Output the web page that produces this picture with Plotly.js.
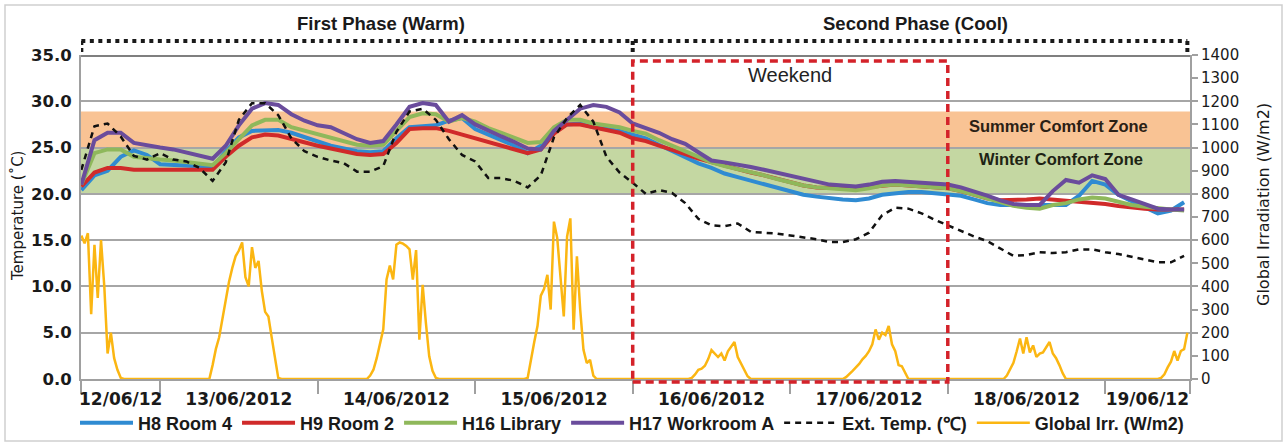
<!DOCTYPE html>
<html>
<head>
<meta charset="utf-8">
<script src="https://cdn.plot.ly/plotly-3.0.1.min.js"></script>
<style>
html,body{margin:0;padding:0;background:#ffffff;}
#chart{width:1287px;height:445px;}
</style>
</head>
<body>
<div id="chart"></div>
<script>
// ---------------- DATA ----------------
// time axis: hours since 12/06/2012 00:00
const tempHours = [12,14,16,18,20,22,24,26,28,30,32,34,36,38,40,42,44,46,48,50,52,54,56,58,60,62,64,66,68,70,72,74,76,78,80,82,84,86,88,90,92,94,96,98,100,102,104,106,108,110,112,114,116,118,120,122,124,126,128,130,132,134,136,138,140,142,144,146,148,150,152,154,156,158,160,162,164,166,168,170,172,174,176,178,180];

const h8Room4 = [20.4,22.0,22.5,24.0,24.7,24.2,23.2,23.1,23.1,23.0,
  22.9,24.6,26.1,26.8,26.9,26.9,26.6,26.1,25.6,25.2,
  24.9,24.6,24.5,24.6,26.0,27.2,27.3,27.4,27.9,28.2,
  27.0,26.4,25.8,25.2,24.4,25.2,26.8,27.5,27.6,27.2,
  27.0,26.8,26.4,26.0,25.3,24.6,23.9,23.3,22.8,22.2,
  21.8,21.4,21.0,20.6,20.2,19.9,19.7,19.5,19.4,19.3,
  19.5,19.9,20.1,20.2,20.2,20.1,20.0,19.8,19.4,19.0,
  18.8,18.8,18.8,18.8,18.8,18.8,19.8,21.4,21.0,19.9,
  19.2,18.6,17.9,18.2,19.1];

const h9Room2 = [20.8,22.3,22.8,22.8,22.6,22.6,22.6,22.6,22.7,22.7,
  22.6,24.0,25.2,26.1,26.4,26.3,25.9,25.6,25.2,24.9,
  24.6,24.3,24.2,24.3,25.5,27.0,27.1,27.1,26.8,26.4,
  26.0,25.6,25.2,24.8,24.4,24.8,26.5,27.5,27.5,27.2,
  26.9,26.6,26.0,25.7,25.2,24.8,24.3,23.8,23.4,23.0,
  22.7,22.3,22.0,21.6,21.2,20.9,20.7,20.6,20.6,20.6,
  20.7,20.9,21.0,20.9,20.8,20.7,20.6,20.3,19.9,19.5,
  19.3,19.3,19.4,19.5,19.4,19.2,19.1,19.0,18.9,18.7,
  18.5,18.4,18.3,18.3,18.3];

const h16Library = [21.0,24.4,24.8,24.8,24.0,23.8,23.7,23.6,23.4,23.2,
  23.1,24.4,25.9,27.4,28.0,28.0,27.2,26.8,26.4,26.0,
  25.7,25.3,25.2,25.3,26.8,28.3,28.7,28.6,27.8,28.2,
  27.8,27.1,26.6,26.0,25.5,25.6,27.2,28.0,28.0,27.6,
  27.4,27.2,26.8,26.5,25.8,25.2,24.6,24.0,23.4,23.0,
  22.7,22.3,22.0,21.6,21.2,20.9,20.7,20.6,20.4,20.4,
  20.6,20.9,21.0,20.9,20.8,20.7,20.6,20.3,19.9,19.4,
  19.0,18.7,18.5,18.4,18.8,19.0,19.4,19.6,19.5,19.1,
  18.8,18.6,18.4,18.3,18.2];

const h17WorkroomA = [21.0,25.8,26.6,26.6,25.5,25.2,25.0,24.8,24.5,24.2,
  23.8,25.2,27.4,29.2,29.8,29.6,28.6,27.9,27.4,27.2,
  26.6,25.9,25.5,25.7,27.5,29.4,29.8,29.6,27.8,28.5,
  27.5,26.8,26.2,25.6,24.9,24.8,26.8,28.0,29.2,29.6,
  29.4,28.8,27.6,27.1,26.6,25.9,25.4,24.5,23.6,23.4,
  23.2,22.9,22.6,22.3,21.9,21.6,21.3,21.0,20.9,20.8,
  21.0,21.3,21.4,21.3,21.1,21.0,21.0,20.7,20.3,19.8,
  19.3,18.9,18.8,18.8,20.3,21.5,21.2,22.0,21.6,19.9,
  19.4,18.9,18.4,18.3,18.3];

const extTemp = [22.6,27.3,27.6,26.2,24.1,23.7,24.4,23.7,23.5,22.8,
  21.4,23.4,28.0,29.8,29.8,28.5,26.0,24.6,24.0,23.6,
  23.3,22.4,22.4,23.0,26.7,28.9,29.2,28.0,25.9,24.2,
  23.5,21.7,21.7,21.4,20.7,22.0,26.1,28.2,29.6,27.8,
  24.0,22.3,21.2,20.0,20.4,20.1,19.0,17.3,16.6,16.5,
  16.8,15.9,15.8,15.7,15.5,15.3,15.1,14.8,14.8,15.1,
  15.8,17.7,18.5,18.4,17.9,17.2,16.6,16.0,15.4,14.9,
  14.1,13.3,13.4,13.7,13.6,13.7,14.0,14.0,13.7,13.5,
  13.2,12.9,12.6,12.6,13.3];

// global irradiation (W/m2), every 30 min from 12/06 12:00
const irrStart = 12, irrStep = 0.5;
const globalIrr = [
  620,586,630,280,580,350,600,400,110,200,90,40,5,
  0,0,0,0,0,0,0,0,0,0, 0,0,0,0,0,0,0,0,0,0, 0,0,0,0,0,0,0,
  60,130,180,260,330,420,480,530,555,590,440,400,570,480,510,380,290,270,180,90,5,
  0,0,0,0,0,0,0,0,0,0, 0,0,0,0,0,0,0,0,0,0, 0,0,0,0,0,0,0,
  15,40,90,150,215,430,490,430,580,590,585,575,560,430,557,170,407,240,98,35,5,
  0,0,0,0,0,0,0,0,0,0, 0,0,0,0,0,0,0,0,0,0, 0,0,0,0,0,0,0,
  5,90,160,230,360,390,450,300,680,610,440,270,615,694,213,530,300,126,69,83,15,
  0,0,0,0,0,0,0,0,0,0, 0,0,0,0,0,0,0,0,0,0, 0,0,0,0,0,0,0,0,0,
  5,20,40,45,57,86,125,110,95,110,80,120,140,160,95,65,35,12,
  0,0,0,0,0,0,0,0,0,0, 0,0,0,0,0,0,0,0,0,0, 0,0,0,0,0,0,0,0,0,
  8,20,35,50,65,85,100,120,150,214,170,200,190,229,150,120,60,55,30,
  0,0,0,0,0,0,0,0,0,0, 0,0,0,0,0,0,0,0,0,0, 0,0,0,0,0,0,0,0,0,0,
  15,40,70,120,175,110,180,115,145,95,110,115,140,160,110,90,60,25,
  0,0,0,0,0,0,0,0,0,0, 0,0,0,0,0,0,0,0,0,0, 0,0,0,0,0,0,0,0,0,
  5,20,50,75,121,80,121,129,200
];

const seriesNames = ['H8 Room 4','H9 Room 2','H16 Library','H17 Workroom A','Ext. Temp. (\u2103)','Global Irr. (W/m2)'];
const dayLabels = ['12/06/12','13/06/2012','14/06/2012','15/06/2012','16/06/2012','17/06/2012','18/06/2012','19/06/12'];
const dayLabelHours = [18,36,60,84,108,132,156,174.4];
const dayBoundaryHours = [24,48,72,96,120,144,168];
const tempTicks = [0,5,10,15,20,25,30,35];
const summerZone = [25, 28.9];
const winterZone = [20, 25];
const zoneLabels = ['Summer Comfort Zone','Winter Comfort Zone'];
const phaseLabels = ['First Phase (Warm)','Second Phase (Cool)'];
const phaseEdges = [12, 96, 180.5];
const weekend = [96, 144];
const weekendLabel = 'Weekend';
const axisTitles = ['Temperature (\u02DAC)', 'Global Irradiation (W/m2)'];

// ---------------- LAYOUT ----------------
const W = 1287, H = 445;
const M = {l:81, r:97, t:55, b:66, autoexpand:false};
const plotH = H - M.t - M.b;
const plotW = W - M.l - M.r;
const xRange = [11.95, 180.9];
function pyPaper(px){ return (H - M.b - px) / plotH; }  // pixel row -> paper y
function pxPaper(px){ return (px - M.l) / plotW; }      // pixel col -> paper x

const irrHours = globalIrr.map((_, i) => irrStart + i * irrStep);

const colors = ['#2f8bd2','#d02a2a','#8fb85b','#6a4c9c','#111111','#fbb612'];
const temps = [h8Room4, h9Room2, h16Library, h17WorkroomA];

const traces = temps.map((arr, k) => ({
  type:'scatter', mode:'lines', x: tempHours, y: arr, name: seriesNames[k],
  line:{color: colors[k], width: 4}, xaxis:'x', yaxis:'y'
}));
traces.push({
  type:'scatter', mode:'lines', x: tempHours, y: extTemp, name: seriesNames[4],
  line:{color: colors[4], width: 2.5, dash:'6px,5px'}, xaxis:'x', yaxis:'y'
});
traces.push({
  type:'scatter', mode:'lines', x: irrHours, y: globalIrr, name: seriesNames[5],
  line:{color: colors[5], width: 2.5}, xaxis:'x2', yaxis:'y2'
});

const gridCol = '#a6a6a6';
const axCol = '#a0a0a0';
const bold = {family:'DejaVu Sans', size:16.5, color:'#1a1a1a', weight:'bold'};

const shapes = [
  {type:'rect', xref:'paper', yref:'y', x0:0, x1:1, y0:summerZone[0], y1:summerZone[1],
   fillcolor:'#f9c394', line:{width:0}, layer:'below'},
  {type:'rect', xref:'paper', yref:'y', x0:0, x1:1, y0:winterZone[0], y1:winterZone[1],
   fillcolor:'#c4d7a2', line:{width:0}, layer:'below'},
  {type:'line', xref:'paper', yref:'y', x0:0, x1:1, y0:35, y1:35,
   line:{color:'#7f7f7f', width:4}},
  // phase box (dotted)
  {type:'line', xref:'x', yref:'paper', x0:phaseEdges[0], x1:phaseEdges[2], y0:pyPaper(41), y1:pyPaper(41),
   line:{color:'#1a1a1a', width:4, dash:'4px,4.5px'}},
  ...phaseEdges.map(e => ({type:'line', xref:'x', yref:'paper', x0:e, x1:e, y0:pyPaper(41), y1:1,
   line:{color:'#1a1a1a', width:4, dash:'4px,3px'}})),
  // weekend box
  {type:'rect', xref:'x', yref:'paper', x0:weekend[0], x1:weekend[1], y0:pyPaper(382), y1:pyPaper(61),
   line:{color:'#d4222a', width:3.5, dash:'8px,5px'}, fillcolor:'rgba(0,0,0,0)', layer:'above'},
  // outer frame
  {type:'rect', xref:'paper', yref:'paper', x0:pxPaper(5), x1:pxPaper(1282), y0:pyPaper(441), y1:pyPaper(5),
   line:{color:'#cfcfcf', width:1.5}, fillcolor:'rgba(0,0,0,0)'}
];

const annotations = [
  {xref:'paper', yref:'paper', x:pxPaper(381), y:pyPaper(23), xanchor:'center', yanchor:'middle',
   text:phaseLabels[0], showarrow:false,
   font:{family:'Liberation Sans', size:18.5, color:'#1a1a1a', weight:'bold'}},
  {xref:'paper', yref:'paper', x:pxPaper(915), y:pyPaper(23), xanchor:'center', yanchor:'middle',
   text:phaseLabels[1], showarrow:false,
   font:{family:'Liberation Sans', size:18.5, color:'#1a1a1a', weight:'bold'}},
  {xref:'x', yref:'y', x:(weekend[0]+weekend[1])/2, y:32.8, xanchor:'center', yanchor:'middle',
   text:weekendLabel, showarrow:false,
   font:{family:'Liberation Sans', size:20, color:'#222222'}},
  {xref:'x', yref:'y', x:160.8, y:27.3, xanchor:'center', yanchor:'middle', text:zoneLabels[0], showarrow:false,
   font:{family:'Liberation Sans', size:16.5, color:'#2a2014', weight:'bold'}},
  {xref:'x', yref:'y', x:161.3, y:23.8, xanchor:'center', yanchor:'middle', text:zoneLabels[1], showarrow:false,
   font:{family:'Liberation Sans', size:16.5, color:'#1e2414', weight:'bold'}},
  // axis titles
  {xref:'paper', yref:'paper', x:pxPaper(18), y:pyPaper(216), xanchor:'center', yanchor:'middle',
   text:axisTitles[0], textangle:-90, showarrow:false,
   font:{family:'DejaVu Sans', size:15, color:'#1a1a1a'}},
  {xref:'paper', yref:'paper', x:pxPaper(1264), y:pyPaper(205), xanchor:'center', yanchor:'middle',
   text:axisTitles[1], textangle:-90, showarrow:false,
   font:{family:'DejaVu Sans', size:16, color:'#1a1a1a'}}
];

const layout = {
  width:W, height:H, margin:M,
  paper_bgcolor:'#ffffff', plot_bgcolor:'#ffffff',
  showlegend:true,
  legend:{orientation:'h', xref:'container', x:632/W, xanchor:'center', y:pyPaper(423), yanchor:'middle',
    font:{family:'Liberation Sans', size:18, color:'#1a1a1a', weight:'bold'},
    itemwidth:53, bgcolor:'rgba(0,0,0,0)', tracegroupgap:0},
  xaxis:{range:xRange, tickmode:'array', tickvals:[xRange[0], ...dayBoundaryHours, xRange[1]],
    ticktext:Array(dayBoundaryHours.length+2).fill(''), ticks:'outside', ticklen:13, tickwidth:2,
    tickcolor:axCol, showline:true, linecolor:axCol, linewidth:2, showgrid:false, zeroline:false,
    fixedrange:true, automargin:false},
  xaxis2:{overlaying:'x', anchor:'y', side:'bottom', range:xRange, tickmode:'array',
    tickvals:dayLabelHours, ticktext:dayLabels, ticks:'outside', ticklen:5, tickcolor:'rgba(0,0,0,0)',
    showline:false, showgrid:false, zeroline:false, fixedrange:true, automargin:false,
    tickfont:{family:'DejaVu Sans', size:17, color:'#1a1a1a', weight:'bold'}},
  yaxis:{range:[0,35], tickmode:'array', tickvals:tempTicks, tickformat:'.1f',
    showgrid:true, gridcolor:gridCol, gridwidth:2, showline:true, linecolor:axCol, linewidth:2,
    zeroline:false, ticks:'outside', ticklen:4, tickcolor:'rgba(0,0,0,0)', tickfont:bold,
    fixedrange:true, automargin:false},
  yaxis2:{overlaying:'y', anchor:'x2', side:'right', range:[0,1400], tickmode:'linear', tick0:0, dtick:100,
    showgrid:false, zeroline:false, showline:true, linecolor:axCol, linewidth:2,
    ticks:'outside', ticklen:6, tickwidth:2, tickcolor:axCol,
    tickfont:{family:'DejaVu Sans', size:15, color:'#1a1a1a'}, fixedrange:true, automargin:false},
  shapes:shapes,
  annotations:annotations
};

Plotly.newPlot('chart', traces, layout, {displayModeBar:false, staticPlot:true});
</script>
</body>
</html>
